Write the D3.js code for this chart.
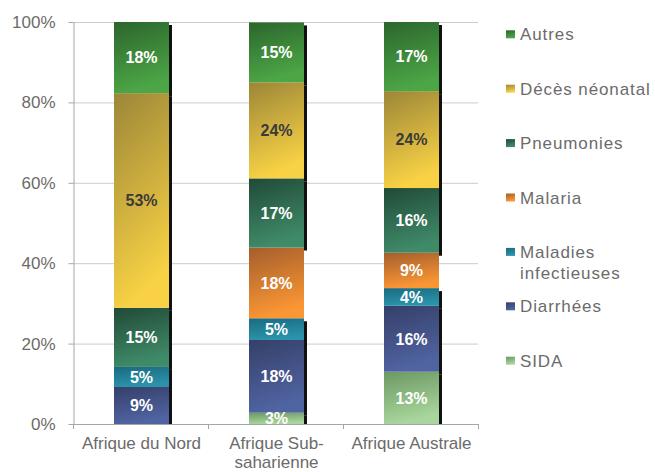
<!DOCTYPE html>
<html><head><meta charset="utf-8">
<script src="https://cdn.jsdelivr.net/npm/d3@7"></script>
<style>
html,body{margin:0;padding:0;background:#fff;}
text{font-family:"Liberation Sans",Arial,sans-serif;}
</style></head>
<body>
<svg id="chart" width="655" height="472"></svg>
<script>
const regions = ["Afrique du Nord", "Afrique Sub-saharienne", "Afrique Australe"];
const regionLines = [["Afrique du Nord"], ["Afrique Sub-", "saharienne"], ["Afrique Australe"]];
// stacking order bottom -> top
const series = ["SIDA", "Diarrhées", "Maladies infectieuses", "Malaria", "Pneumonies", "Décès néonatal", "Autres"];
const sida        = [0,    2.8,  13.0];
const diarrhees   = [9.2,  18.1, 16.4];
const maladies    = [5.0,  5.4,  4.4];
const malaria     = [0,    17.6, 8.8];
const pneumonies  = [14.7, 17.2, 16.1];
const decesNeo    = [53.4, 23.9, 24.1];
const autres      = [17.7, 14.9, 17.2];
const yTicks = [0, 20, 40, 60, 80, 100];
const legendOrder = ["Autres", "Décès néonatal", "Pneumonies", "Malaria", "Maladies infectieuses", "Diarrhées", "SIDA"];
const legendLines = {"Maladies infectieuses": ["Maladies", "infectieuses"]};

(function () {
const valuesBySeries = {
  "SIDA": sida, "Diarrhées": diarrhees, "Maladies infectieuses": maladies, "Malaria": malaria,
  "Pneumonies": pneumonies, "Décès néonatal": decesNeo, "Autres": autres
};
const colors = {
  "Autres": ["#2c652d", "#4ca646"],
  "Décès néonatal": ["#9c8638", "#f8d244"],
  "Pneumonies": ["#214a36", "#3f8a69"],
  "Malaria": ["#a45e2c", "#fa9634"],
  "Maladies infectieuses": ["#1b6a80", "#2a93ab"],
  "Diarrhées": ["#353f68", "#5064a2"],
  "SIDA": ["#6c9862", "#a8d69c"]
};
const labelColor = {"Décès néonatal": "#3a3a3a"};
const shadowed = {"Malaria": false};

const svg = d3.select("#chart");
const defs = svg.append("defs");
series.forEach((s, i) => {
  const g = defs.append("linearGradient").attr("id", "g" + i)
    .attr("x1", 0).attr("y1", 0).attr("x2", 0.25).attr("y2", 1);
  g.append("stop").attr("offset", "0%").attr("stop-color", colors[s][0]);
  g.append("stop").attr("offset", "100%").attr("stop-color", colors[s][1]);
});

const pL = 73, pR = 478, pT = 22, pB = 424;
const x = d3.scaleBand().domain(regions).range([pL + 1, pR + 1]).paddingInner(80/135).paddingOuter(40/135);
const y = d3.scaleLinear().domain([0, 100]).range([pB, pT]);

defs.append("clipPath").attr("id", "plotclip").append("rect")
  .attr("x", pL).attr("y", pT - 2).attr("width", pR - pL + 10).attr("height", pB - pT + 2);

// gridlines
svg.append("g").selectAll("line").data(yTicks.filter(d => d > 0)).join("line")
  .attr("x1", pL).attr("x2", pR).attr("y1", d => y(d) + 0.5).attr("y2", d => y(d) + 0.5)
  .attr("stroke", "#cccccc").attr("stroke-width", 1);

// y axis
const yAxis = svg.append("g").attr("transform", `translate(${pL + 0.5},0)`)
  .call(d3.axisLeft(y).tickValues(yTicks).tickSize(5).tickSizeOuter(0).tickFormat(d => d + "%"));
yAxis.select(".domain").attr("stroke", "#a6a6a6");
yAxis.selectAll(".tick line").attr("stroke", "#a6a6a6");
yAxis.selectAll(".tick text").attr("x", -18).attr("fill", "#6b6b6b")
  .style("font-size", "17px").style("font-family", '"Liberation Sans",Arial,sans-serif');

const stacked = d3.stack().keys(series)(regions.map((r, i) => {
  const o = {region: r};
  series.forEach(s => o[s] = valuesBySeries[s][i]);
  return o;
}));

const plot = svg.append("g").attr("clip-path", "url(#plotclip)");
// shadows
stacked.forEach((layer) => {
  if (shadowed[layer.key] === false) return;
  plot.append("g").selectAll("rect").data(layer.filter(d => d[1] - d[0] > 0)).join("rect")
    .attr("x", d => x(d.data.region) + x.bandwidth())
    .attr("width", 3)
    .attr("y", d => y(d[1]) + 3)
    .attr("height", d => y(d[0]) - y(d[1]))
    .attr("fill", "#111");
});
// bars
stacked.forEach((layer, i) => {
  plot.append("g").selectAll("rect").data(layer.filter(d => d[1] - d[0] > 0)).join("rect")
    .attr("x", d => x(d.data.region))
    .attr("width", x.bandwidth())
    .attr("y", d => y(d[1]))
    .attr("height", d => y(d[0]) - y(d[1]))
    .attr("fill", `url(#g${i})`);
});
// labels
stacked.forEach((layer) => {
  plot.append("g").selectAll("text").data(layer.filter(d => d[1] - d[0] > 0)).join("text")
    .attr("x", d => x(d.data.region) + x.bandwidth() / 2)
    .attr("y", d => (y(d[0]) + y(d[1])) / 2)
    .attr("dy", "0.36em")
    .attr("text-anchor", "middle")
    .attr("fill", labelColor[layer.key] || "#ffffff")
    .style("font-size", "16px").style("font-weight", "bold")
    .text(d => d3.format(".0f")(d[1] - d[0]) + "%");
});

// x axis
const xAxisG = svg.append("g");
xAxisG.append("line").attr("x1", pL).attr("x2", pR).attr("y1", pB + 0.5).attr("y2", pB + 0.5).attr("stroke", "#a6a6a6");
const step = x.step();
d3.range(regions.length + 1).forEach(k => {
  xAxisG.append("line").attr("x1", pL + k * step + 0.5).attr("x2", pL + k * step + 0.5)
    .attr("y1", pB).attr("y2", pB + 5).attr("stroke", "#a6a6a6");
});
regions.forEach((r, i) => {
  const cx = x(r) + x.bandwidth() / 2;
  const t = xAxisG.append("text").attr("text-anchor", "middle").attr("fill", "#6b6b6b").style("font-size", "17px")
    .attr("x", cx).attr("y", 449);
  regionLines[i].forEach((ln, j) => t.append("tspan").attr("x", cx).attr("dy", j === 0 ? 0 : 19).text(ln));
});

// legend
const legend = svg.append("g");
legendOrder.forEach((s, k) => {
  const cy = 34.3 + k * 54.4;
  const gi = series.indexOf(s);
  legend.append("rect").attr("x", 506).attr("y", cy - 4).attr("width", 9).attr("height", 8).attr("fill", `url(#g${gi})`);
  const lines = legendLines[s] || [s];
  const t = legend.append("text").attr("x", 520).attr("y", cy + 6).attr("fill", "#6b6b6b")
    .style("font-size", "17px").style("letter-spacing", "0.9px");
  lines.forEach((ln, j) => t.append("tspan").attr("x", 520).attr("dy", j === 0 ? 0 : 21.5).text(ln));
});
})();
</script>
</body></html>
